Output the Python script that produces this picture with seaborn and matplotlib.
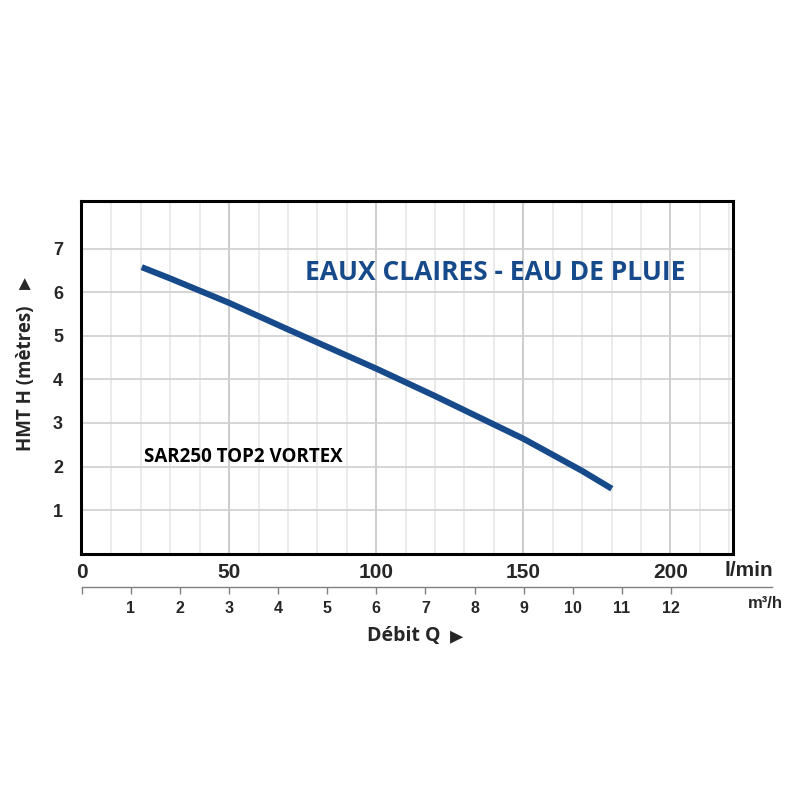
import matplotlib
matplotlib.use("Agg")
import matplotlib.pyplot as plt
import seaborn as sns
import pandas as pd
import numpy as np

# ---- data ----
debit_lmin = [20.3, 30, 50, 70, 100, 120, 150, 170, 180.1]
hmt_m = [6.58, 6.32, 5.76, 5.15, 4.25, 3.62, 2.64, 1.90, 1.49]
x_ticks_lmin = [0, 50, 100, 150, 200]
y_ticks = [1, 2, 3, 4, 5, 6, 7]
m3h_ticks = list(range(0, 13))
m3h_labels = [""] + [str(i) for i in range(1, 13)]

title = "EAUX CLAIRES - EAU DE PLUIE"
model = "SAR250 TOP2 VORTEX"

sns.set_theme(style="white")
plt.rcParams['font.family'] = ['Open Sans', 'DejaVu Sans']

BLUE = "#174a8b"
W = 800.0

fig = plt.figure(figsize=(8, 8), dpi=100)
fig.patch.set_facecolor("white")

# main axes (pixel-based placement)
left, right, top, bottom = 81, 733, 201, 554
ax = fig.add_axes([left / W, 1 - bottom / W, (right - left) / W, (bottom - top) / W])

df = pd.DataFrame({"Q": debit_lmin, "H": hmt_m})
sns.lineplot(data=df, x="Q", y="H", ax=ax, color=BLUE, linewidth=4.4,
             solid_capstyle="butt", solid_joinstyle="round", zorder=5)

ax.set_xlim(-0.34, 221.3)
ax.set_ylim(-0.01, 8.1)

ax.set_xticks(x_ticks_lmin)
ax.set_xticks(np.arange(10, 221, 10), minor=True)
ax.set_yticks(y_ticks)
ax.grid(which="major", axis="x", color="#c8c8c8", linewidth=1.3)
ax.grid(which="minor", axis="x", color="#e6e6e6", linewidth=1.1)
ax.grid(which="major", axis="y", color="#d2d2d2", linewidth=1.3)
ax.set_axisbelow(True)

ax.set_xticklabels([str(v) for v in x_ticks_lmin], fontfamily="Liberation Sans",
                   fontweight="bold", fontsize=15)
ax.set_yticklabels([str(v) for v in y_ticks], fontfamily="Liberation Sans",
                   fontweight="bold", fontsize=13)
ax.tick_params(axis="x", which="both", length=0, pad=6.5)
ax.tick_params(axis="y", length=0, pad=13)
ax.set_xlabel("")
ax.set_ylabel("")

for s in ax.spines.values():
    s.set_visible(True)
    s.set_color("black")
    s.set_linewidth(2.2)

fig.text(495 / W, 1 - 273 / W, title, color=BLUE, fontsize=19, fontweight="bold",
         ha="center", va="center")
fig.text(144 / W, 1 - 456.5 / W, model, color="black", fontsize=13.5, fontweight="bold",
         ha="left", va="center")

# secondary m3/h axis
sx0, sx1, sy = 81.7, 772, 587
ax2 = fig.add_axes([sx0 / W, 1 - sy / W, (sx1 - sx0) / W, 0.0001])
ax2.set_facecolor("none")
ax2.set_xlim(0, (sx1 - sx0) / 49.1)
ax2.set_ylim(0, 1)
for k in ["top", "left", "right"]:
    ax2.spines[k].set_visible(False)
ax2.spines["bottom"].set_visible(True)
ax2.spines["bottom"].set_color("#808080")
ax2.spines["bottom"].set_linewidth(1.0)
ax2.set_yticks([])
ax2.set_xticks(m3h_ticks)
ax2.set_xticklabels(m3h_labels, fontfamily="Liberation Sans", fontweight="bold", fontsize=11.5)
ax2.tick_params(axis="x", direction="out", length=5, width=1.0, color="#808080",
                pad=5, bottom=True)
ax2.grid(False)

fig.text(749 / W, 1 - 571 / W, "l/min", fontfamily="Liberation Sans", fontweight="bold",
         fontsize=15, ha="center", va="center")
fig.text(765 / W, 1 - 604 / W, "m³/h", fontfamily="Liberation Sans", fontweight="bold",
         fontsize=12, ha="center", va="center")

fig.text(404 / W, 1 - 636 / W, "Débit Q", fontsize=14, fontweight="bold",
         ha="center", va="center")
fig.text(457 / W, 1 - 636 / W, "▸", fontsize=19, family=["DejaVu Sans"],
         ha="center", va="center")
fig.text(26 / W, 1 - 378 / W, "HMT H (mètres)", fontsize=13.5, fontweight="bold",
         ha="center", va="center", rotation=90)
fig.text(24 / W, 1 - 283 / W, "▸", fontsize=17, family=["DejaVu Sans"],
         ha="center", va="center", rotation=90)

fig.savefig("out.png", dpi=100, facecolor="white")
